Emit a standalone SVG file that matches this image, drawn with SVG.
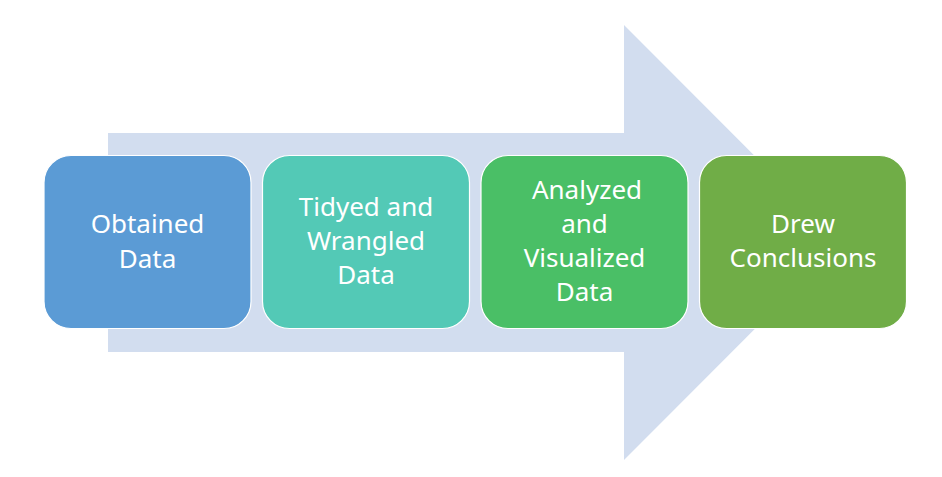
<svg xmlns="http://www.w3.org/2000/svg" width="942" height="477" viewBox="0 0 942 477">
<style>
.box{stroke:#ffffff;stroke-width:1.2}
.t{font-family:"Segoe UI","Noto Sans","Open Sans",sans-serif;font-size:26px;fill:#ffffff;text-anchor:middle}
</style>
<rect width="942" height="477" fill="#ffffff"/>
<g id="arrow">
<polygon points="108,133 624,133 624,25 841,242.5 624,460 624,352 108,352" fill="#D2DDEF"/>
</g>
<g id="connectors"></g>
<g id="n1">
<rect class="box" x="44" y="155.5" width="207" height="173" rx="27" fill="#5B9BD5"/>
<text class="t" x="147.5" y="233">Obtained</text>
<text class="t" x="147.5" y="268">Data</text>
</g>
<g id="n2">
<rect class="box" x="262.5" y="155.5" width="207" height="173" rx="27" fill="#53C9B6"/>
<text class="t" x="366" y="216">Tidyed and</text>
<text class="t" x="366" y="250">Wrangled</text>
<text class="t" x="366" y="284">Data</text>
</g>
<g id="n3">
<rect class="box" x="481" y="155.5" width="207" height="173" rx="27" fill="#4ABF66"/>
<text class="t" x="587" y="199">Analyzed</text>
<text class="t" x="584.5" y="233">and</text>
<text class="t" x="584.5" y="267">Visualized</text>
<text class="t" x="584.5" y="301">Data</text>
</g>
<g id="n4">
<rect class="box" x="699.5" y="155.5" width="207" height="173" rx="27" fill="#70AD47"/>
<text class="t" x="803" y="233">Drew</text>
<text class="t" x="803" y="267">Conclusions</text>
</g>
</svg>
